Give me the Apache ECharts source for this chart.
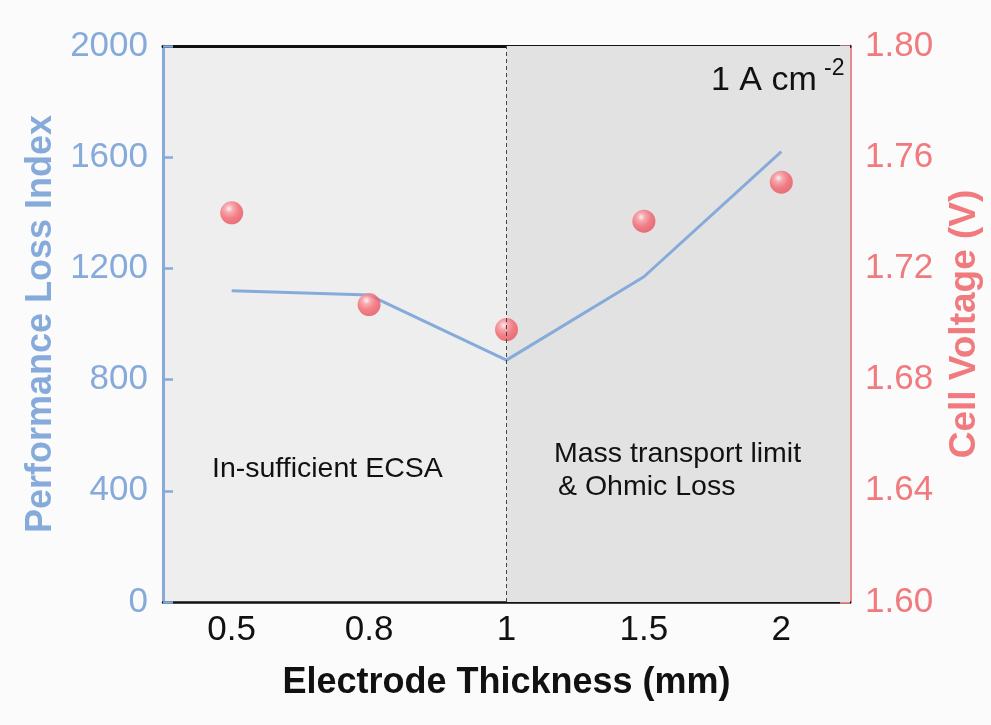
<!DOCTYPE html>
<html>
<head>
<meta charset="utf-8">
<script src="https://cdn.jsdelivr.net/npm/echarts@6/dist/echarts.min.js"></script>
<style>
  html, body { margin: 0; padding: 0; background: #fbfbfb; overflow: hidden; }
  #container { width: 100vw; height: 100vh; }
</style>
</head>
<body>
<div id="container"></div>
<script>
// 数据
const thickness = ['0.5', '0.8', '1', '1.5', '2']
const lossIndex = [1120, 1104, 870, 1170, 1620]
const cellVoltage = [1.740, 1.707, 1.698, 1.737, 1.751]

const blue = '#86abdb'
const red = '#f07a7d'
const font = 'Liberation Sans, Arial, sans-serif'

const dom = document.getElementById('container')
const myChart = echarts.init(dom)

const textStyle = (size) => ({ fontFamily: font, fontSize: size, fill: '#111' })

const option = {
  backgroundColor: '#fbfbfb',
  grid: {
    left: 163,
    right: 132,
    top: 46,
    bottom: 123,
    show: true,
    backgroundColor: '#eeeeee',
    borderWidth: 0
  },
  xAxis: [
    {
      type: 'category',
      data: thickness,
      position: 'bottom',
      name: 'Electrode Thickness (mm)',
      nameLocation: 'middle',
      nameGap: 63,
      nameTextStyle: { color: '#111', fontSize: 36, fontWeight: 'bold', fontFamily: font },
      axisLine: { lineStyle: { color: '#111', width: 2.5 } },
      axisTick: { inside: true, length: 8, alignWithLabel: true, lineStyle: { color: '#111', width: 2.5 } },
      axisLabel: { color: '#111', fontSize: 35, fontFamily: font, margin: 11 },
      splitLine: { show: false }
    },
    {
      type: 'category',
      data: thickness,
      position: 'top',
      axisLine: { lineStyle: { color: '#111', width: 3 } },
      axisTick: { show: false },
      axisLabel: { show: false },
      splitLine: { show: false }
    }
  ],
  yAxis: [
    {
      type: 'value',
      min: 0,
      max: 2000,
      interval: 400,
      position: 'left',
      name: 'Performance Loss Index',
      nameLocation: 'middle',
      nameGap: 104,
      nameTextStyle: { color: blue, fontSize: 36, fontWeight: 'bold', fontFamily: font },
      axisLine: { show: true, lineStyle: { color: blue, width: 3 } },
      axisTick: { show: true, inside: true, length: 10, lineStyle: { color: blue, width: 2.5 } },
      axisLabel: { color: blue, fontSize: 35, fontFamily: font, margin: 15, formatter: (v) => String(v) },
      splitLine: { show: false }
    },
    {
      type: 'value',
      min: 1.6,
      max: 1.8,
      interval: 0.04,
      position: 'right',
      name: 'Cell Voltage (V)',
      nameLocation: 'middle',
      nameGap: 96,
      nameTextStyle: { color: red, fontSize: 37, fontWeight: 'bold', fontFamily: font },
      axisLine: { show: true, lineStyle: { color: '#e88a88', width: 3 } },
      axisTick: { show: true, inside: true, length: 10, lineStyle: { color: '#e88a88', width: 2.5 } },
      axisLabel: {
        color: red, fontSize: 35, fontFamily: font, margin: 15,
        formatter: (v) => v.toFixed(2)
      },
      splitLine: { show: false }
    }
  ],
  series: [
    {
      name: 'Performance Loss Index',
      type: 'line',
      xAxisIndex: 0,
      yAxisIndex: 0,
      data: lossIndex,
      showSymbol: false,
      symbol: 'none',
      lineStyle: { color: blue, width: 3 },
      z: 3,
      // 右半区域的深色背景
      markArea: {
        silent: true,
        itemStyle: { color: '#e2e2e2' },
        data: [[{ xAxis: '1' }, {}]]
      },
      // 中间的虚线
      markLine: {
        silent: true,
        symbol: 'none',
        label: { show: false },
        lineStyle: { color: '#444', width: 1, type: [4, 3] },
        data: [{ xAxis: '1' }]
      }
    },
    {
      name: 'Cell Voltage',
      type: 'scatter',
      xAxisIndex: 0,
      yAxisIndex: 1,
      data: cellVoltage,
      symbolSize: 23,
      z: 4,
      itemStyle: {
        color: {
          type: 'radial',
          x: 0.38, y: 0.32, r: 0.7,
          colorStops: [
            { offset: 0, color: '#fff2f2' },
            { offset: 0.25, color: '#f99aa1' },
            { offset: 0.6, color: '#f4646e' },
            { offset: 1, color: '#e8505a' }
          ]
        }
      }
    }
  ],
  graphic: [
    { type: 'text', x: 711, y: 64, style: textStyle(34), z: 10, silent: true },
    { type: 'text', x: 824, y: 57, style: textStyle(23), z: 10, silent: true },
    { type: 'text', x: 212, y: 455, style: textStyle(28.5), z: 10, silent: true },
    { type: 'text', x: 554, y: 440, style: textStyle(28.5), z: 10, silent: true },
    { type: 'text', x: 558, y: 473, style: textStyle(28.5), z: 10, silent: true }
  ]
}

// 注释文字
const notes = ['1 A cm', '-2', 'In-sufficient ECSA', 'Mass transport limit', '& Ohmic Loss']
option.graphic.forEach((g, i) => { g.style.text = notes[i] })

myChart.setOption(option, true)
window.addEventListener('resize', () => {
  myChart.resize()
})
</script>
</body>
</html>
